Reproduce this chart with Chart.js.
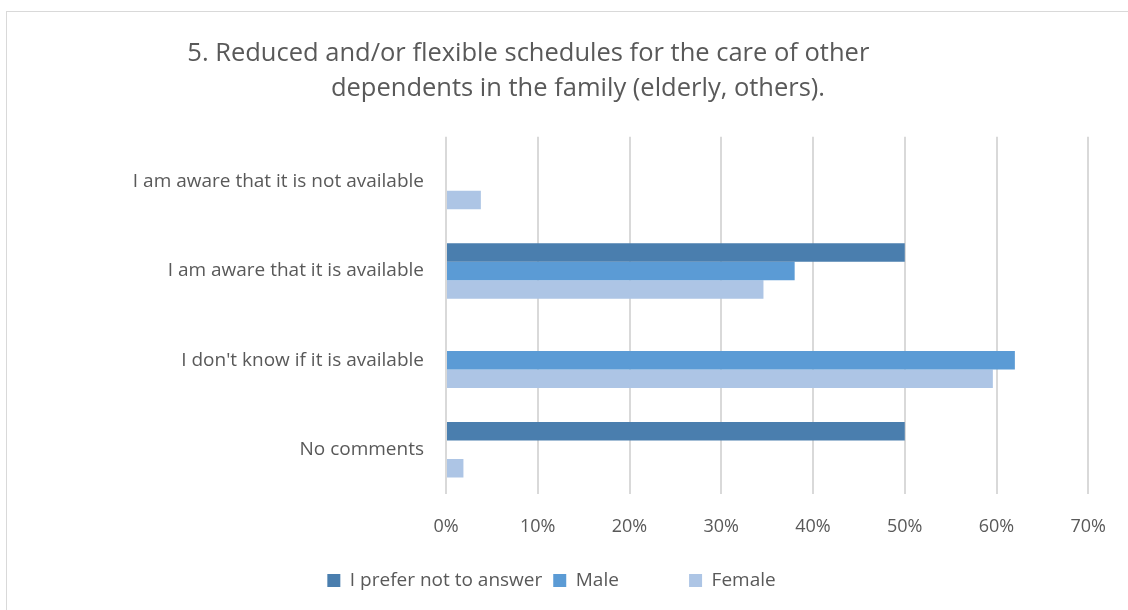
<!DOCTYPE html>
<html>
<head>
<meta charset="utf-8">
<script src="https://cdn.jsdelivr.net/npm/chart.js@4.4.1/dist/chart.umd.min.js"></script>
<style>
  html, body { margin:0; padding:0; background:#fff; }
  #frame { position:absolute; left:6px; top:11px; width:1140px; height:620px; border:1px solid #d9d9d9; }
  #wrap { position:absolute; left:0; top:0; width:1128px; height:610px; }
</style>
</head>
<body>
<div id="frame"></div>
<div id="wrap"><canvas id="chart"></canvas></div>
<script>
// survey answers, % of each group
const categories = [
  'I am aware that it is not available',
  'I am aware that it is available',
  "I don't know if it is available",
  'No comments'
];
const preferNot = [0, 50, 0, 50];
const male      = [0, 38, 62, 0];
const female    = [3.8, 34.6, 59.6, 1.9];
const xTicks    = [0, 10, 20, 30, 40, 50, 60, 70];

// excel-ish wrapped title: first line sits left, second line right
const titleLines = [
  '5. Reduced and/or flexible schedules for the care of other       ',
  '        dependents in the family (elderly, others).'
];

const FONT = "'Open Sans', sans-serif";
const GREY = '#595959';

// excel legend entries are wider than the text, pad them a bit
const legendPad = ['', '            ', ''];

const ctx = document.getElementById('chart').getContext('2d');
new Chart(ctx, {
  type: 'bar',
  data: {
    labels: categories,
    datasets: [
      { label:'I prefer not to answer', data:preferNot, backgroundColor:'#4a7eae' },
      { label:'Male', data:male, backgroundColor:'#5b9bd5' },
      { label:'Female', data:female, backgroundColor:'#adc5e5' }
    ]
  },
  options: {
    indexAxis: 'y',
    responsive: true,
    maintainAspectRatio: false,
    animation: false,
    categoryPercentage: 0.62,
    barPercentage: 1.0,
    layout: { padding: { left: 0, right: 25, top: 36, bottom: 10 } },
    plugins: {
      title: {
        display: true,
        text: titleLines,
        color: GREY,
        font: { family: FONT, size: 25.5, weight: 'normal', lineHeight: 1.37 },
        padding: { top: 0, bottom: 31 }
      },
      legend: {
        position: 'bottom',
        labels: {
          color: GREY,
          font: { family: FONT, size: 19 },
          boxWidth: 13, boxHeight: 13,
          padding: 11,
          generateLabels: chart => {
            const items = Chart.defaults.plugins.legend.labels.generateLabels(chart);
            items.forEach((it, i) => { it.text = it.text + legendPad[i]; });
            return items;
          }
        }
      },
      tooltip: { enabled: false }
    },
    scales: {
      x: {
        min: 0, max: 70,
        afterBuildTicks: axis => { axis.ticks = xTicks.map(v => ({ value: v })); },
        ticks: { color: GREY, font: { family: FONT, size: 18 }, padding: 22, callback: v => v + '%' },
        grid: { color: '#d9d9d9', lineWidth: 2, drawTicks: false },
        border: { display: false }
      },
      y: {
        afterFit: scale => { scale.width = 446; },
        ticks: { color: GREY, font: { family: FONT, size: 19 }, padding: 22 },
        grid: { display: false, drawTicks: false },
        border: { display: false }
      }
    }
  }
});
</script>
</body>
</html>
